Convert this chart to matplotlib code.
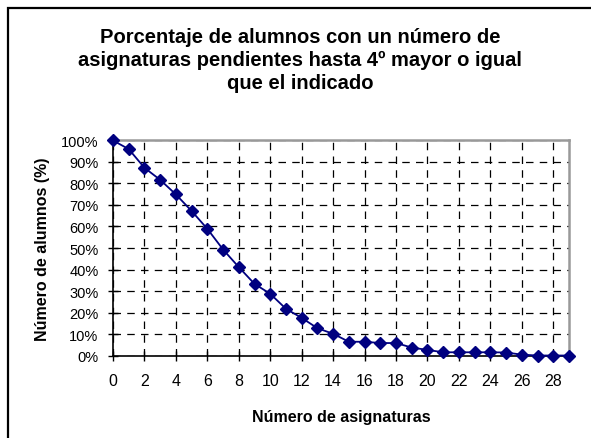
import matplotlib.pyplot as plt
from matplotlib.patches import Rectangle
from matplotlib.ticker import PercentFormatter

plt.rcParams["font.family"] = ["Liberation Sans", "DejaVu Sans"]

# number of pending subjects and % of students with at least that many
asignaturas = list(range(30))
porcentaje = [100, 96, 87.3, 81.7, 74.9, 67.2, 58.9, 49.3, 41.1, 33.3,
              28.7, 21.7, 17.5, 12.7, 10.1, 6.4, 6.4, 5.8, 5.8, 3.7,
              2.6, 1.5, 1.5, 1.5, 1.5, 1.4, 0.4, 0, 0, 0]
y_ticks = list(range(0, 101, 10))
x_ticks = list(range(0, 29, 2))

fig = plt.figure(figsize=(5.91, 4.39), dpi=100)
ax = fig.add_axes([0.1912, 0.1879, 0.7716, 0.4898])

ax.plot(asignaturas, porcentaje, color="#000080", lw=1.3, marker="D",
        markersize=6.5, clip_on=False, zorder=5)

ax.set_xlim(0, 29)
ax.set_ylim(0, 100)
ax.set_xticks(x_ticks)
ax.set_yticks(y_ticks)
ax.yaxis.set_major_formatter(PercentFormatter(decimals=0))
ax.tick_params(direction="inout", length=7, width=1)
ax.tick_params(axis="x", labelsize=11.5, pad=9)
ax.tick_params(axis="y", labelsize=10.5, pad=7)

ax.grid(True, color="black", linestyle=(0, (6, 5)), linewidth=0.9)
ax.set_axisbelow(True)

for side in ("top", "right"):
    ax.spines[side].set_color("#999999")
    ax.spines[side].set_linewidth(1.8)
for side in ("left", "bottom"):
    ax.spines[side].set_color("black")
    ax.spines[side].set_linewidth(1.2)

ax.set_xlabel("Número de asignaturas", fontsize=11.5, fontweight="bold", labelpad=15)
ax.set_ylabel("Número de alumnos (%)", fontsize=11.5, fontweight="bold", labelpad=8)

fig.text(0.508, 0.862, "Porcentaje de alumnos con un número de\n"
         "asignaturas pendientes hasta 4º mayor o igual\nque el indicado",
         ha="center", va="center", fontsize=14.5, fontweight="bold",
         linespacing=1.26)

# chart frame (only the top and left edges are inside the image)
fig.patches.append(Rectangle((8 / 591, -0.05), 1.1, 1 - 8.5 / 439 + 0.05,
                             transform=fig.transFigure, fill=False,
                             edgecolor="black", linewidth=1.6))

fig.savefig("out.png", dpi=100)
